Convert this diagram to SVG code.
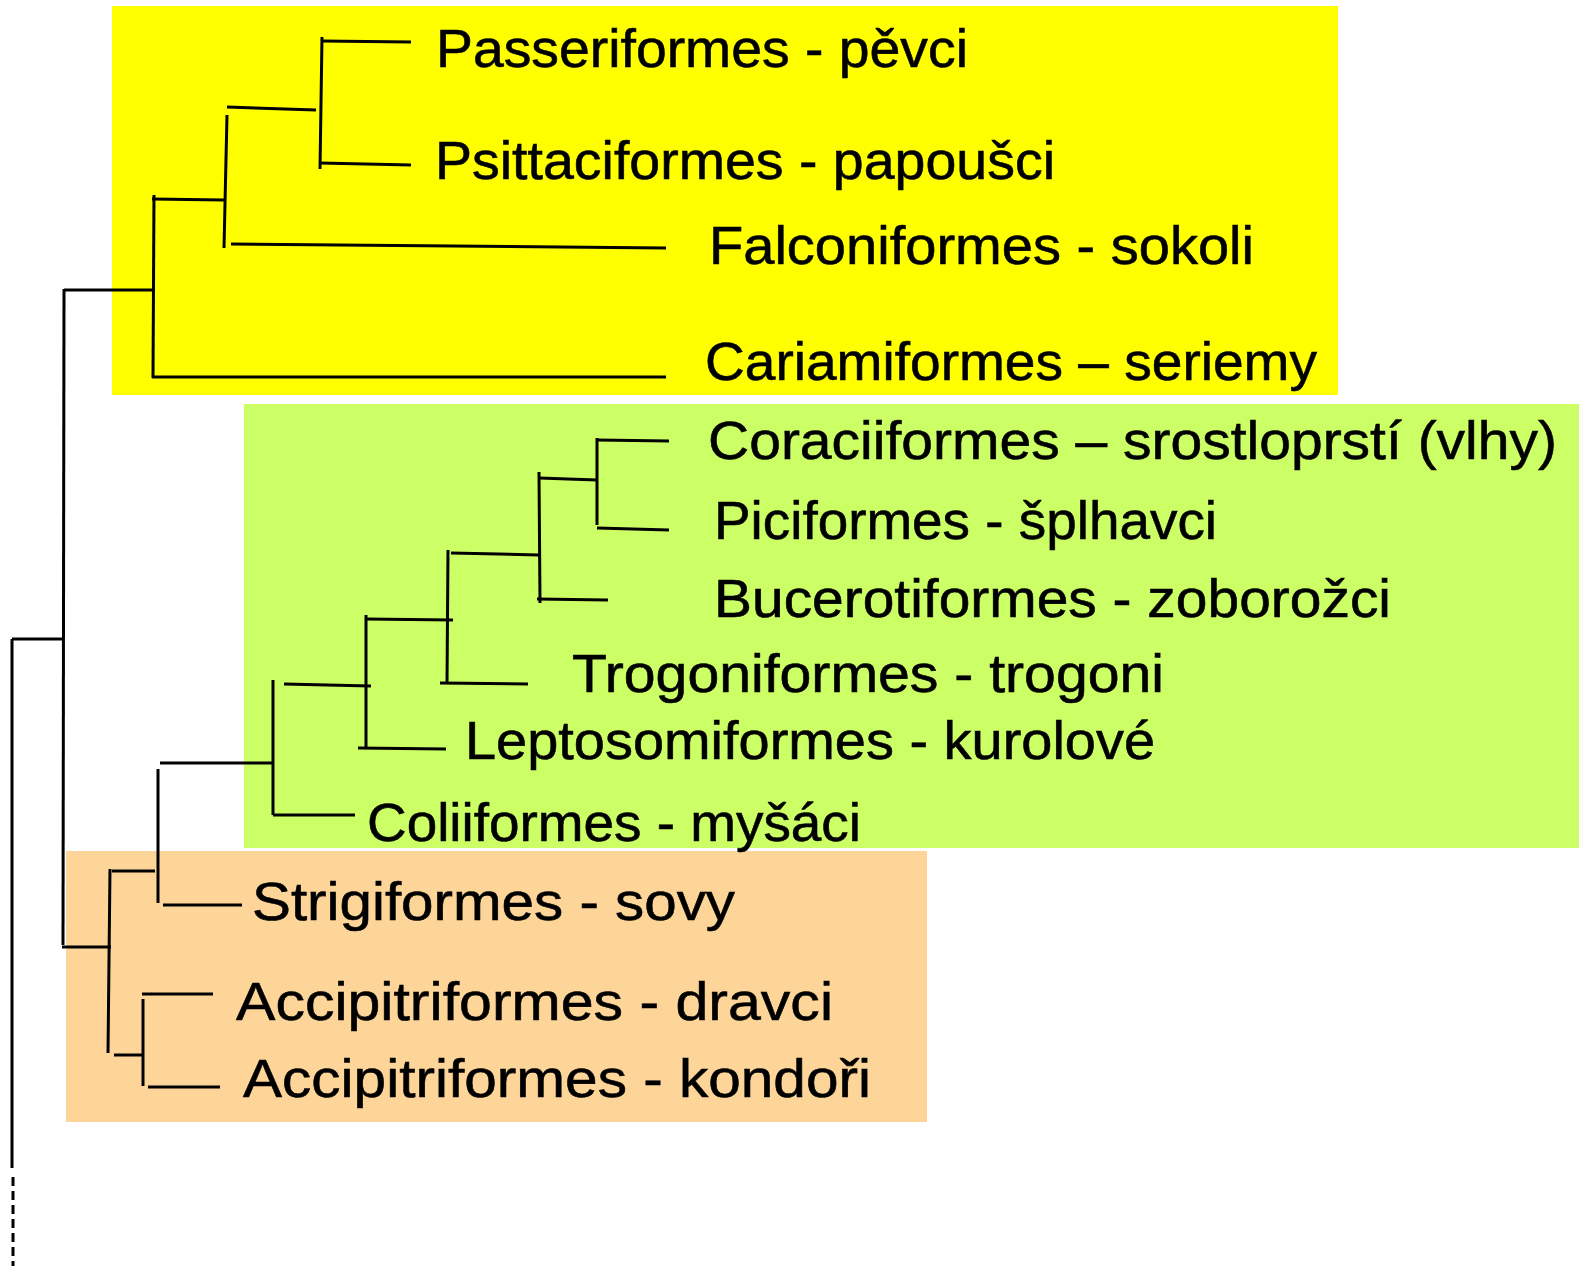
<svg xmlns="http://www.w3.org/2000/svg" width="1579" height="1266" viewBox="0 0 1579 1266">
<style>
.bg{fill:#ffffff}
.lbl{font-family:"Liberation Sans","DejaVu Sans",sans-serif;font-size:54px;fill:#000000;stroke:#000000;stroke-width:0.6}
.br{stroke:#000000;stroke-width:3;fill:none;stroke-linecap:butt}
.dash{stroke:#000000;stroke-width:3;fill:none;stroke-dasharray:9 5}
</style>
<rect class="bg" x="0" y="0" width="1579" height="1266"/>
<g id="clade-yellow"><rect x="112" y="6" width="1226" height="389" fill="#ffff00"/></g>
<g id="clade-green"><rect x="244" y="404" width="1335" height="444" fill="#ccff66"/></g>
<g id="clade-orange"><rect x="66" y="851" width="861" height="271" fill="#fdd599"/></g>
<g id="connectors">
<line class="br" x1="12" y1="639" x2="12" y2="1168"/>
<line class="dash" x1="13" y1="1177" x2="13" y2="1266"/>
<line class="br" x1="12" y1="639" x2="64" y2="639"/>
<line class="br" x1="64" y1="289" x2="63" y2="945"/>
<line class="br" x1="64" y1="290" x2="154" y2="290"/>
<line class="br" x1="62" y1="947" x2="111" y2="947"/>
<line class="br" x1="154" y1="195" x2="153" y2="378"/>
<line class="br" x1="152" y1="199" x2="224" y2="200"/>
<line class="br" x1="152" y1="377" x2="666" y2="377"/>
<line class="br" x1="227" y1="115" x2="224" y2="248"/>
<line class="br" x1="227" y1="107" x2="316" y2="110"/>
<line class="br" x1="231" y1="244" x2="666" y2="248"/>
<line class="br" x1="322" y1="37" x2="320" y2="169"/>
<line class="br" x1="322" y1="41" x2="411" y2="42"/>
<line class="br" x1="320" y1="163" x2="411" y2="165"/>
<line class="br" x1="597" y1="438" x2="597" y2="525"/>
<line class="br" x1="597" y1="440" x2="669" y2="441"/>
<line class="br" x1="597" y1="528" x2="669" y2="530"/>
<line class="br" x1="539" y1="472" x2="540" y2="603"/>
<line class="br" x1="539" y1="478" x2="597" y2="480"/>
<line class="br" x1="537" y1="599" x2="608" y2="600"/>
<line class="br" x1="448" y1="550" x2="447" y2="684"/>
<line class="br" x1="451" y1="553" x2="539" y2="555"/>
<line class="br" x1="440" y1="683" x2="528" y2="684"/>
<line class="br" x1="366" y1="615" x2="366" y2="748"/>
<line class="br" x1="366" y1="619" x2="453" y2="620"/>
<line class="br" x1="358" y1="748" x2="446" y2="749"/>
<line class="br" x1="273" y1="680" x2="273" y2="815"/>
<line class="br" x1="284" y1="684" x2="371" y2="686"/>
<line class="br" x1="273" y1="815" x2="355" y2="815"/>
<line class="br" x1="160" y1="763" x2="273" y2="763"/>
<line class="br" x1="158" y1="769" x2="158" y2="903"/>
<line class="br" x1="163" y1="905" x2="242" y2="905"/>
<line class="br" x1="112" y1="871" x2="155" y2="871"/>
<line class="br" x1="110" y1="869" x2="108" y2="1053"/>
<line class="br" x1="114" y1="1055" x2="142" y2="1055"/>
<line class="br" x1="143" y1="999" x2="143" y2="1086"/>
<line class="br" x1="142" y1="994" x2="213" y2="994"/>
<line class="br" x1="148" y1="1087" x2="220" y2="1087"/>
</g>
<g id="n-passeriformes"><text class="lbl" x="436" y="67" textLength="532" lengthAdjust="spacingAndGlyphs">Passeriformes - pěvci</text></g>
<g id="n-psittaciformes"><text class="lbl" x="435" y="179" textLength="620" lengthAdjust="spacingAndGlyphs">Psittaciformes - papoušci</text></g>
<g id="n-falconiformes"><text class="lbl" x="709" y="264" textLength="545" lengthAdjust="spacingAndGlyphs">Falconiformes - sokoli</text></g>
<g id="n-cariamiformes"><text class="lbl" x="705" y="380" textLength="612" lengthAdjust="spacingAndGlyphs">Cariamiformes – seriemy</text></g>
<g id="n-coraciiformes"><text class="lbl" x="708" y="459" textLength="849" lengthAdjust="spacingAndGlyphs">Coraciiformes – srostloprstí (vlhy)</text></g>
<g id="n-piciformes"><text class="lbl" x="714" y="539" textLength="503" lengthAdjust="spacingAndGlyphs">Piciformes - šplhavci</text></g>
<g id="n-bucerotiformes"><text class="lbl" x="714" y="617" textLength="677" lengthAdjust="spacingAndGlyphs">Bucerotiformes - zoborožci</text></g>
<g id="n-trogoniformes"><text class="lbl" x="572" y="692" textLength="592" lengthAdjust="spacingAndGlyphs">Trogoniformes - trogoni</text></g>
<g id="n-leptosomiformes"><text class="lbl" x="465" y="759" textLength="690" lengthAdjust="spacingAndGlyphs">Leptosomiformes - kurolové</text></g>
<g id="n-coliiformes"><text class="lbl" x="367" y="841" textLength="494" lengthAdjust="spacingAndGlyphs">Coliiformes - myšáci</text></g>
<g id="n-strigiformes"><text class="lbl" x="252" y="920" textLength="483" lengthAdjust="spacingAndGlyphs">Strigiformes - sovy</text></g>
<g id="n-accipitriformes-dravci"><text class="lbl" x="236" y="1020" textLength="597" lengthAdjust="spacingAndGlyphs">Accipitriformes - dravci</text></g>
<g id="n-accipitriformes-kondori"><text class="lbl" x="243" y="1097" textLength="628" lengthAdjust="spacingAndGlyphs">Accipitriformes - kondoři</text></g>
</svg>
